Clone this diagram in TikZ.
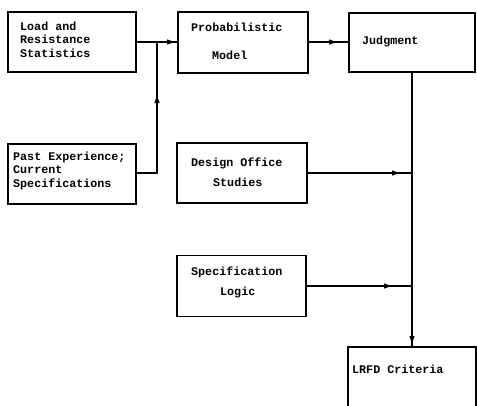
\documentclass[tikz,border=0pt]{standalone}
\usepackage{fontspec}
\newfontfamily\tw{Liberation Mono}
\usetikzlibrary{arrows.meta}
\tikzset{
  box/.style={draw, line width=1.1pt, inner sep=0pt},
  lbl/.style={anchor=west, inner sep=0pt, text height=8pt, text depth=2pt, font=\tw\fontsize{11.7pt}{13.5pt}\selectfont\bfseries},
  conn/.style={line width=1.1pt},
  arr/.style={line width=1.1pt, -{Latex[length=9pt,width=5.5pt]}}
}
\begin{document}
\begin{tikzpicture}[x=1pt,y=-1pt]
\useasboundingbox[fill=white] (0,0) rectangle (477,405);
% boxes
\node[box, minimum width=128pt, minimum height=60pt] (load) at (72,42) {};
\node[box, minimum width=130pt, minimum height=61pt] (prob) at (243,42.5) {};
\node[box, minimum width=126pt, minimum height=59pt] (judg) at (412,42.5) {};
\node[box, minimum width=128pt, minimum height=60pt] (past) at (72,174) {};
\node[box, minimum width=130pt, minimum height=60pt] (design) at (242,173) {};
\node[box, minimum width=129pt, minimum height=61pt] (spec) at (241.5,286) {};
\node[box, minimum width=128pt, minimum height=80pt] (lrfd) at (412,387) {};
% labels
\node[lbl] (t1) at (20,27) {Load and};
\node[lbl] (t2) at (20,40.5) {Resistance};
\node[lbl] (t3) at (20,54) {Statistics};
\node[lbl] (t4) at (191,28) {Probabilistic};
\node[lbl] (t5) at (212,56) {Model};
\node[lbl] (t6) at (362,41) {Judgment};
\node[lbl] (t7) at (13,157) {Past Experience;};
\node[lbl] (t8) at (13,170.5) {Current};
\node[lbl] (t9) at (13,184) {Specifications};
\node[lbl] (t10) at (191,163.5) {Design Office};
\node[lbl] (t11) at (213,183.5) {Studies};
\node[lbl] (t12) at (191,272) {Specification};
\node[lbl] (t13) at (220,292.5) {Logic};
\node[lbl] (t14) at (352,370) {LRFD Criteria};
% junction coordinates
\coordinate (j1) at (157,42);
\coordinate (j2) at (157,173);
\coordinate (j3) at (412,173);
\coordinate (j4) at (412,286);
% arrow tip points
\coordinate (a1) at (176,42);
\coordinate (a2) at (157,94);
\coordinate (a3) at (338,42);
\coordinate (a4) at (412,345);
\coordinate (a5) at (401,173);
\coordinate (a6) at (393,286);
% connectors (full lines)
\draw[conn] (load.east |- j1) -- (prob.west |- j1);
\draw[conn] (past.east |- j2) -- (j2) -- (j1);
\draw[conn] (prob.east |- j1) -- (judg.west |- j1);
\draw[conn] (judg.south) -- (lrfd.north);
\draw[conn] (design.east |- j3) -- (j3);
\draw[conn] (spec.east |- j4) -- (j4);
% arrowheads placed along the connectors
\draw[arr] (load.east |- j1) -- (a1);
\draw[arr] (j2) -- (a2);
\draw[arr] (prob.east |- j1) -- (a3);
\draw[arr] (judg.south) -- (a4);
\draw[arr] (design.east |- j3) -- (a5);
\draw[arr] (spec.east |- j4) -- (a6);
\end{tikzpicture}
\end{document}
